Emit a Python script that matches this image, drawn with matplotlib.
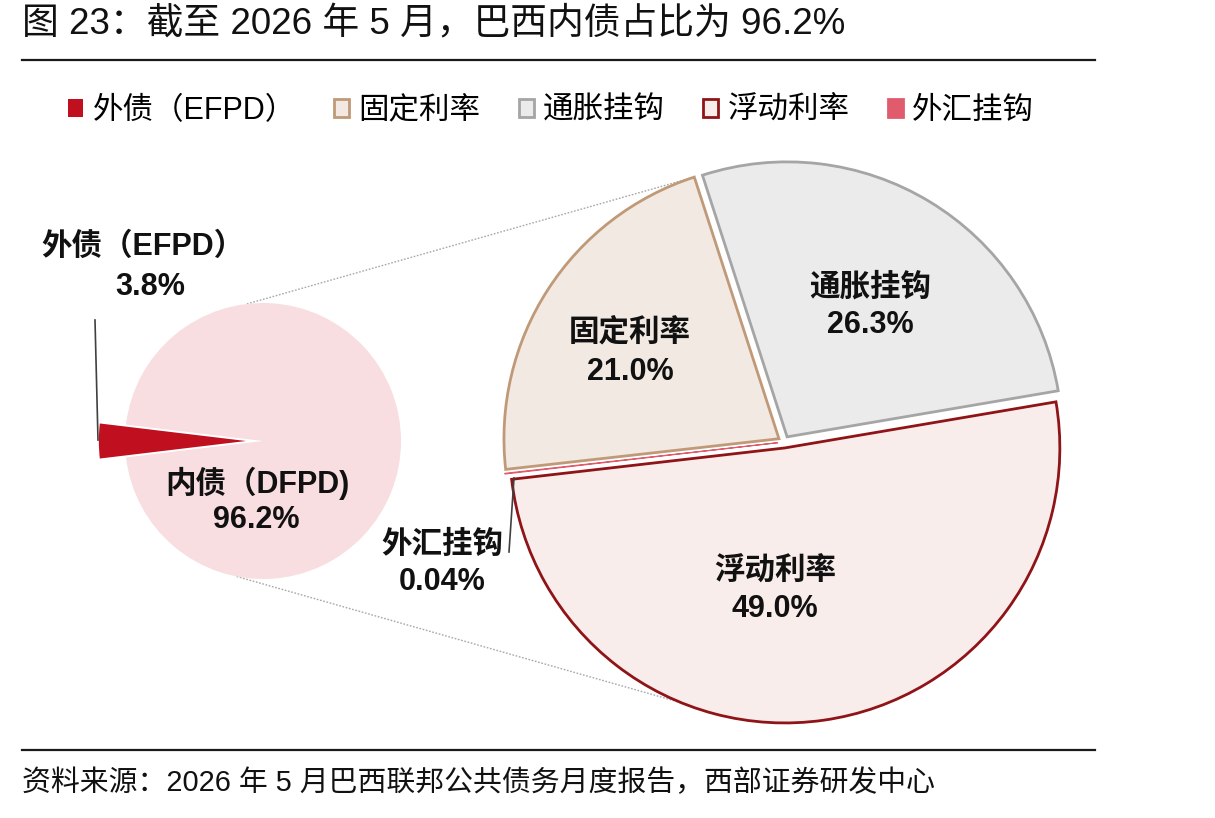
import matplotlib
matplotlib.use('Agg')
import matplotlib.pyplot as plt
from matplotlib.patches import Patch
from matplotlib import font_manager
from matplotlib.font_manager import FontProperties
import numpy as np

# ---------------- data ----------------
title = "图 23：截至 2026 年 5 月，巴西内债占比为 96.2%"
source = "资料来源：2026 年 5 月巴西联邦公共债务月度报告，西部证券研发中心"

outer_labels = ["外债（EFPD）", "内债（DFPD)"]
outer_values = [3.8, 96.2]

inner_labels = ["固定利率", "通胀挂钩", "浮动利率", "外汇挂钩"]
inner_values = [21.0, 26.3, 49.0, 0.04]

legend_labels = ["外债（EFPD）", "固定利率", "通胀挂钩", "浮动利率", "外汇挂钩"]

# ---------------- styles ----------------
RED = '#C00F1E'
PINK = '#F8DDE1'
outer_colors = [RED, PINK]
inner_fill = ['#F1E9E2', '#EBEBEB', '#F9EDEC', '#E05C6C']
inner_edge = ['#C09A78', '#A5A5A5', '#8F1417', '#E05C6C']

names = {f.name for f in font_manager.fontManager.ttflist}
NARROW = 'Liberation Sans Narrow' if 'Liberation Sans Narrow' in names else 'Liberation Sans'
FAM = ['Liberation Sans', 'Noto Sans CJK SC']
FAM_N = [NARROW, 'Noto Sans CJK SC']
plt.rcParams['font.family'] = FAM

W, H = 1215, 818
def Y(y):
    return H - y

fig = plt.figure(figsize=(W / 100, H / 100), dpi=100)
ax = fig.add_axes([0, 0, 1, 1])

# ---------------- left pie ----------------
lc = (263, Y(441))
lr = 138
start_l = 180 - outer_values[0] / sum(outer_values) * 360 / 2
wl, _ = ax.pie(outer_values, center=lc, radius=lr, startangle=start_l,
               counterclock=True, colors=outer_colors,
               wedgeprops=dict(edgecolor='white', linewidth=1.2))
t = np.deg2rad((wl[0].theta1 + wl[0].theta2) / 2)
wl[0].set_center((lc[0] + 10 * np.cos(t), lc[1] + 10 * np.sin(t)))
wl[0].set_radius(155)
wl[1].set_edgecolor(PINK)
wl[1].set_linewidth(0)

# ---------------- right pie ----------------
rc = (784, Y(442))
R = 275
wr, _ = ax.pie(inner_values, center=rc, radius=R, startangle=186.4,
               counterclock=False, colors=inner_fill,
               wedgeprops=dict(linewidth=2.0))
for w, ec in zip(wr, inner_edge):
    w.set_edgecolor(ec)
    tm = np.deg2rad((w.theta1 + w.theta2) / 2)
    cx, cy = rc[0] + 6 * np.cos(tm), rc[1] + 6 * np.sin(tm)
    w.set_center((cx, cy))
wr[3].set_linewidth(0.8)

# connector dotted lines
def on_circle(center, r, ang):
    a = np.deg2rad(ang)
    return center[0] + r * np.cos(a), center[1] + r * np.sin(a)

p1 = on_circle(lc, lr, 96.7)
p2 = on_circle(wr[0].center, R, wr[0].theta1)
p3 = on_circle(lc, lr, 259)
p4 = on_circle(wr[2].center, R, 248)
for a, b in [(p1, p2), (p3, p4)]:
    ax.plot([a[0], b[0]], [a[1], b[1]], color='#A8A8A8', lw=1.0,
            linestyle=(0, (1.2, 1.2)), zorder=0)

# leader lines
ax.plot([95, 98], [Y(320), Y(440)], color='#404040', lw=1.2, zorder=5)
ax.plot([509, 514], [Y(552), Y(478)], color='#404040', lw=1.2, zorder=5)

# ---------------- labels ----------------
def fmt(v):
    return f"{v:.2f}%" if v < 0.1 else f"{v:.1f}%"

LBL = dict(fontsize=22, fontweight='bold', ha='center', va='center',
           family=FAM, color='#111111', zorder=6)
ax.text(143, Y(247), outer_labels[0], **LBL)
ax.text(150, Y(287), fmt(outer_values[0]), **LBL)
ax.text(257, Y(483), outer_labels[1], **LBL)
ax.text(256, Y(520), fmt(outer_values[1]), **LBL)

inner_pos = [(630, 333, 372), (870, 288, 325), (775, 572, 609), (442, 545, 582)]
for lab, v, (x, y1, y2) in zip(inner_labels, inner_values, inner_pos):
    ax.text(x, Y(y1), lab, **LBL)
    ax.text(x, Y(y2), fmt(v), **LBL)

# ---------------- title, rules, source ----------------
ax.text(22, Y(25), title, fontsize=26.5, ha='left', va='center', family=FAM_N,
        color='#111111')
ax.plot([22, 1095], [Y(60), Y(60)], color='#1a1a1a', lw=1.6)
ax.plot([22, 1095], [Y(750), Y(750)], color='#1a1a1a', lw=1.6)
ax.text(22, Y(783), source, fontsize=20.8, ha='left', va='center', family=FAM_N,
        color='#111111')

# ---------------- legend ----------------
handles = [Patch(facecolor=RED, edgecolor=RED, linewidth=0)]
for f, e in zip(inner_fill, inner_edge):
    handles.append(Patch(facecolor=f, edgecolor=e, linewidth=2))
leg = ax.legend(handles, legend_labels, ncol=5, frameon=False,
                loc='center left', bbox_to_anchor=(68, Y(111)),
                bbox_transform=ax.transData,
                prop=FontProperties(family=FAM_N, size=22),
                handlelength=0.5, handleheight=0.5, handletextpad=0.3,
                columnspacing=1.25, borderpad=0, borderaxespad=0)

ax.set_xlim(0, W)
ax.set_ylim(0, H)
ax.set_aspect('equal')
ax.axis('off')

fig.savefig('out.png', dpi=100, facecolor='white')
